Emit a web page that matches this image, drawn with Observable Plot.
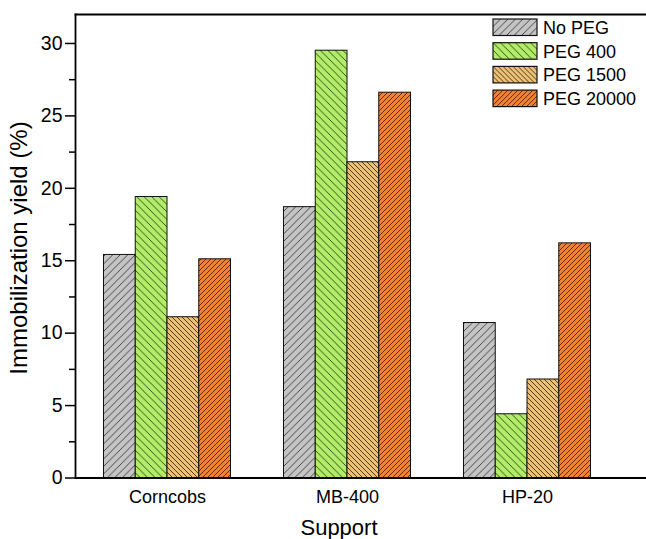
<!DOCTYPE html>
<html>
<head>
<meta charset="utf-8">
<script src="https://cdn.jsdelivr.net/npm/d3@7"></script>
<script src="https://cdn.jsdelivr.net/npm/@observablehq/plot@0.6"></script>
<style>
  html, body { margin: 0; padding: 0; background: #fff; }
  #chart { width: 646px; height: 539px; }
</style>
</head>
<body>
<div id="chart"></div>
<script>
const supports = ["Corncobs", "MB-400", "HP-20"];
const series = ["No PEG", "PEG 400", "PEG 1500", "PEG 20000"];
const noPEG    = [15.4, 18.7, 10.7];
const peg400   = [19.4, 29.5, 4.4];
const peg1500  = [11.1, 21.8, 6.8];
const peg20000 = [15.1, 26.6, 16.2];
const yTicks = [0, 5, 10, 15, 20, 25, 30];
const yMinor = [2.5, 7.5, 12.5, 17.5, 22.5, 27.5];

const values = [noPEG, peg400, peg1500, peg20000];
const fills = ["#c4c4c4", "#b4ec6a", "#ebc178", "#f08232"];
const hatchColors = ["#3a3a3a", "#1f4410", "#4a2a08", "#5a1e06"];
const hatchDir = ["/", "\\", "\\", "/"];
const hatchGap = [7.5, 7.5, 5, 5];

const groupW = 0.7056, barW = groupW / series.length;
const data = [];
series.forEach((s, si) => supports.forEach((g, gi) => {
  const c = gi + 1 - groupW / 2 + si * barW;
  data.push({support: g, series: s, si, value: values[si][gi], x1: c, x2: c + barW, pat: `url(#hatch${si})`});
}));

const plot = Plot.plot({
  width: 646,
  height: 539,
  marginTop: 14,
  marginLeft: 75,
  marginRight: 1,
  marginBottom: 61.5,
  style: {fontFamily: "'Liberation Sans', Arial, sans-serif", fontSize: "18px", color: "#000", background: "#fff"},
  x: {domain: [1 - 92 / 180, 3 + 118 / 180], label: null},
  y: {domain: [0, 32], label: null},
  color: {type: "identity"},
  marks: [
    Plot.rectY(data, {x1: "x1", x2: "x2", y: "value", fill: "pat", stroke: "#111", strokeWidth: 1}),
    Plot.axisX({ticks: [1, 2, 3], tickFormat: i => supports[i - 1], tickSize: 0, tickPadding: 12, fontSize: 18, label: null}),
    Plot.axisY({ticks: yTicks, tickSize: 10, tickPadding: 3, strokeWidth: 1.5, fontSize: 19.5, label: null}),
    Plot.axisY({ticks: yMinor, tickSize: 6, text: null, strokeWidth: 1.5, label: null}),
    Plot.frame({anchor: "left", strokeWidth: 1.8}),
    Plot.frame({anchor: "top", strokeWidth: 1.8}),
    Plot.frame({anchor: "bottom", strokeWidth: 1.8})
  ]
});

const svg = d3.select(plot);
const defs = svg.insert("defs", ":first-child");
series.forEach((s, si) => {
  const g = hatchGap[si];
  const p = defs.append("pattern")
    .attr("id", `hatch${si}`)
    .attr("patternUnits", "userSpaceOnUse")
    .attr("width", g).attr("height", g);
  p.append("rect").attr("width", g).attr("height", g).attr("fill", fills[si]);
  const d = hatchDir[si] === "/"
    ? `M0,${g} L${g},0 M${-g / 2},${g / 2} L${g / 2},${-g / 2} M${g / 2},${g * 1.5} L${g * 1.5},${g / 2}`
    : `M0,0 L${g},${g} M${-g / 2},${g / 2} L${g / 2},${g * 1.5} M${g / 2},${-g / 2} L${g * 1.5},${g / 2}`;
  p.append("path").attr("d", d).attr("stroke", hatchColors[si]).attr("stroke-width", 0.9).attr("fill", "none");
});

// axis titles
svg.append("text")
  .attr("transform", "translate(27,248) rotate(-90)")
  .attr("text-anchor", "middle")
  .attr("font-size", 24)
  .attr("fill", "#000")
  .text("Immobilization yield (%)");
svg.append("text")
  .attr("x", 339).attr("y", 535)
  .attr("text-anchor", "middle")
  .attr("font-size", 22)
  .attr("fill", "#000")
  .text("Support");

// legend
const lg = svg.append("g").attr("transform", "translate(493,19)");
series.forEach((s, si) => {
  const row = lg.append("g").attr("transform", `translate(0,${si * 23.7})`);
  row.append("rect").attr("width", 44).attr("height", 16.5)
    .attr("fill", `url(#hatch${si})`).attr("stroke", "#111").attr("stroke-width", 1.2);
  row.append("text").attr("x", 50).attr("y", 15).attr("font-size", 18)
    .attr("text-anchor", "start").attr("fill", "#000").text(s);
});

document.getElementById("chart").appendChild(plot);
</script>
</body>
</html>
